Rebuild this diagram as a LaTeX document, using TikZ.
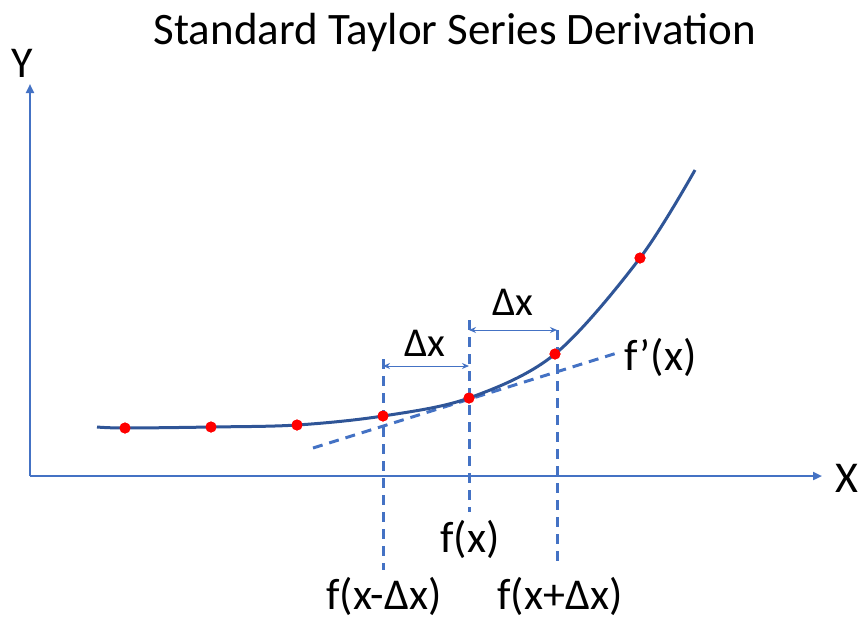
\documentclass[tikz,border=0pt]{standalone}
\usepackage{fontspec}
\setmainfont{Carlito}
\usetikzlibrary{arrows.meta}
\definecolor{axisblue}{HTML}{4472C4}
\definecolor{curveblue}{HTML}{2F5597}
\tikzset{
  axis/.style={draw=axisblue, line width=2.2pt, -{Triangle[length=9pt,width=8pt]}},
  curve/.style={draw=curveblue, line width=3pt},
  dashline/.style={draw=axisblue, line width=3pt, dash pattern=on 10pt off 7pt},
  dimarrow/.style={draw=axisblue, line width=1pt, {Stealth[length=7pt,width=6pt]}-{Stealth[length=7pt,width=6pt]}},
  dot/.style={circle, fill=red, inner sep=0pt, minimum size=11pt},
  lbl/.style={inner sep=0pt, font=\fontsize{44}{52}\selectfont},
  dlbl/.style={inner sep=0pt, font=\fontsize{41}{50}\selectfont},
}
\begin{document}
\begin{tikzpicture}[x=1pt,y=-1pt]
\useasboundingbox (0,0) rectangle (862,622);
% title
\node[inner sep=0pt, font=\fontsize{45}{54}\selectfont] (title) at (455,32) {Standard Taylor Series Derivation};
% axes
\coordinate (o) at (30,476);
\coordinate (ytip) at (30,84);
\coordinate (xtip) at (822,476);
\draw[axis] (o) -- (ytip);
\draw[axis] (o) -- (xtip);
\node[lbl] (ylab) at (22,63) {Y};
\node[lbl] (xlab) at (847,478) {X};
% curve points
\coordinate (c0) at (97,427);
\node[dot] (p1) at (125,428) {};
\node[dot] (p2) at (211,427) {};
\node[dot] (p3) at (297,425) {};
\node[dot] (pm) at (383,416) {};
\node[dot] (p0) at (469,398) {};
\node[dot] (pp) at (555,354) {};
\node[dot] (p7) at (640,258) {};
\coordinate (c1) at (695,170);
% tangent
\coordinate (t0) at (313,448);
\coordinate (t1) at (617,353);
\draw[dashline] (t0) -- (t1);
\node[lbl, anchor=west] (fprime) at (624,357) {f’(x)};
% verticals
\coordinate (vlt) at (383,359);
\coordinate (vlb) at (383,570);
\coordinate (vmt) at (469,320);
\coordinate (vmb) at (469,512);
\coordinate (vrt) at (557,330);
\coordinate (vrb) at (557,561);
\draw[dashline] (vlt) -- (vlb);
\draw[dashline] (vmt) -- (vmb);
\draw[dashline] (vrt) -- (vrb);
% dimension arrows
\coordinate (dl0) at (383,366);
\coordinate (dl1) at (469,366);
\coordinate (dr0) at (469,330);
\coordinate (dr1) at (557,330);
\draw[dimarrow] (dl0) -- (dl1);
\draw[dimarrow] (dr0) -- (dr1);
\node[dlbl] (dxl) at (425,343) {Δx};
\node[dlbl] (dxr) at (513,302) {Δx};
% curve
\draw[curve] plot[smooth, tension=0.55] coordinates {(c0) (p1.center) (p2.center) (p3.center) (pm.center) (p0.center) (pp.center) (p7.center) (c1)};
\foreach \n in {p1,p2,p3,pm,p0,pp,p7} \node[dot] at (\n) {};
% bottom labels
\node[lbl] (fx) at (470,539) {f(x)};
\node[lbl] (fxm) at (384,596) {f(x-Δx)};
\node[lbl] (fxp) at (560,596) {f(x+Δx)};
\end{tikzpicture}
\end{document}
